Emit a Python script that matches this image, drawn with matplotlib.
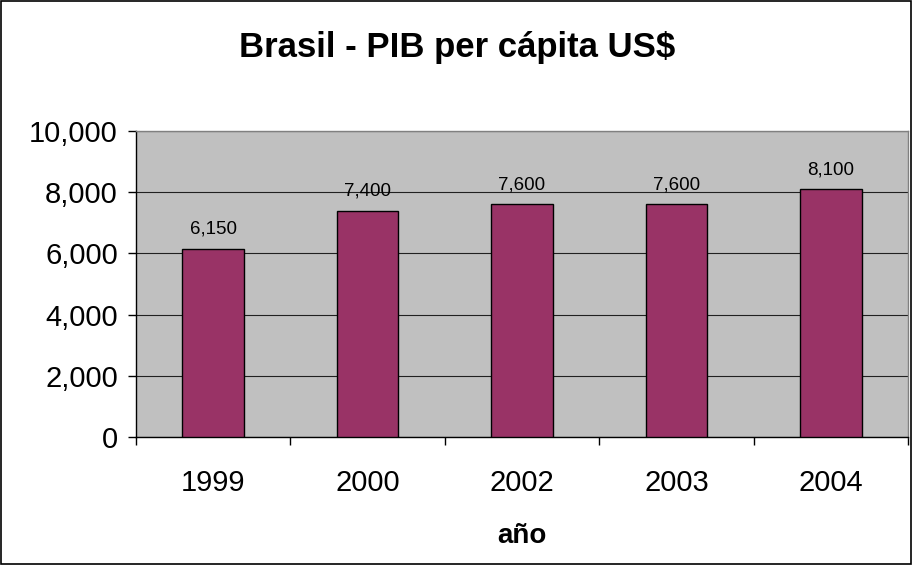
import matplotlib
matplotlib.use("Agg")
import matplotlib.pyplot as plt
from matplotlib.ticker import FuncFormatter, FixedLocator
from matplotlib.patches import Rectangle

years = ["1999", "2000", "2002", "2003", "2004"]
values = [6150, 7400, 7600, 7600, 8100]
labels = ["6,150", "7,400", "7,600", "7,600", "8,100"]
yticks = [0, 2000, 4000, 6000, 8000, 10000]

plt.rcParams['font.family'] = ['Liberation Sans', 'DejaVu Sans']

fig = plt.figure(figsize=(9.14, 5.65), dpi=100)
ax = fig.add_axes([136/914, 1-437/565, (908-136)/914, (437-131)/565])
ax.set_facecolor('#C0C0C0')

x = list(range(len(years)))
ax.bar(x, values, width=0.4, color='#993366', edgecolor='black', linewidth=1, zorder=3)
for xi, v, lab in zip(x, values, labels):
    ax.annotate(lab, (xi, v), xytext=(0, 8), textcoords='offset points',
                ha='center', va='bottom', fontsize=13.5)

ax.set_xlim(-0.5, len(years)-0.5)
ax.set_ylim(0, 10000)
ax.set_yticks(yticks)
ax.yaxis.set_major_formatter(FuncFormatter(lambda v, p: f"{int(v):,}"))
ax.yaxis.grid(True, color='#202020', linewidth=0.8, zorder=1)
ax.set_axisbelow(True)
ax.tick_params(axis='y', length=6, width=1, labelsize=21, pad=7)

ax.set_xticks(x)
ax.set_xticklabels(years)
ax.xaxis.set_minor_locator(FixedLocator([i - 0.5 for i in range(len(years)+1)]))
ax.tick_params(axis='x', which='major', length=0, labelsize=21, pad=23)
ax.tick_params(axis='x', which='minor', length=6, width=1)

for s in ['top', 'right']:
    ax.spines[s].set_color('#808080')
    ax.spines[s].set_linewidth(1)
for s in ['left', 'bottom']:
    ax.spines[s].set_color('black')
    ax.spines[s].set_linewidth(1)

ax.set_xlabel('año', fontsize=20, fontweight='bold', labelpad=19)
fig.text(0.5, 1-47/565, 'Brasil - PIB per cápita US$', ha='center', va='center',
         fontsize=25, fontweight='bold')

fig.patches.append(Rectangle((0.001, 0.002), 0.996, 0.996, transform=fig.transFigure,
                             fill=False, edgecolor='black', linewidth=1.2))

fig.savefig('out.png', dpi=100)
